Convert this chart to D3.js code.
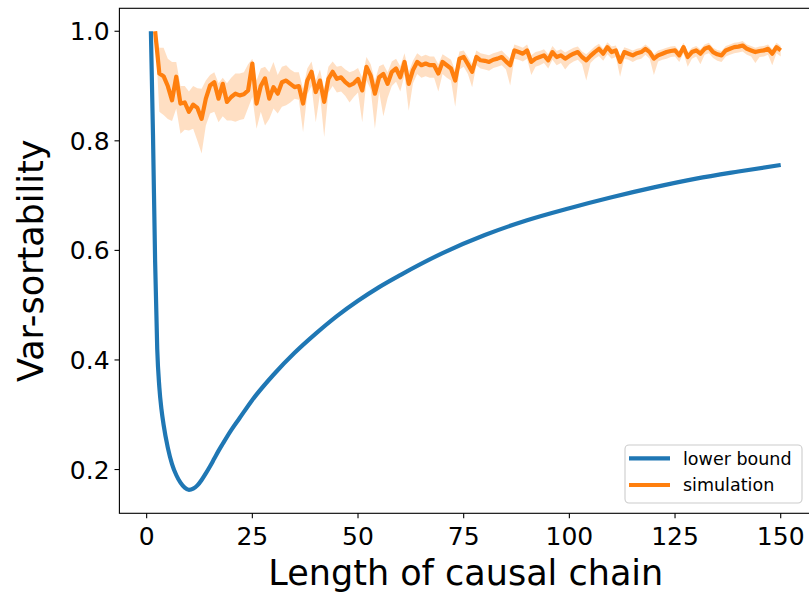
<!DOCTYPE html>
<html>
<head>
<meta charset="utf-8">
<script src="https://cdn.jsdelivr.net/npm/d3@7"></script>
<style>
  body { margin: 0; background: #fff; }
  svg { display: block; font-family: "DejaVu Sans", sans-serif; }
</style>
</head>
<body>
<div id="chart"></div>
<script>
// lower bound curve
const boundX = [1, 1.5, 2, 2.5, 3, 3.5, 4, 5, 6, 7, 8, 9, 10, 11, 12, 13, 14, 15, 16, 17,
    18, 20, 22, 25, 30, 35, 40, 45, 50, 55, 60, 70, 80, 90, 100, 110, 120, 130, 140, 150];
const boundY = [1.0, 0.81, 0.58, 0.42, 0.35, 0.31, 0.282, 0.24, 0.21, 0.19, 0.176, 0.167, 0.163, 0.165, 0.171, 0.181, 0.193, 0.206, 0.22, 0.234,
    0.247, 0.272, 0.294, 0.327, 0.373, 0.413, 0.448, 0.48, 0.508, 0.533, 0.555, 0.595, 0.628, 0.655, 0.677, 0.697, 0.715, 0.731, 0.744, 0.756];

// simulation, one value per chain length 2..150
const simX = d3.range(2, 151);
const simMean = [
    1.0, .923, .918, .90, .874, .917, .868, .87, .853, .866,
    .86, .84, .877, .901, .907, .877, .904, .871, .88, .886,
    .883, .885, .892, .941, .868, .90, .914, .877, .898, .886,
    .907, .91, .904, .898, .90, .868, .91, .926, .889, .91,
    .871, .913, .926, .913, .916, .907, .901, .905, .913, .892,
    .935, .919, .886, .916, .922, .904, .926, .932, .916, .944,
    .904, .929, .944, .938, .941, .938, .938, .923, .944, .938,
    .932, .91, .95, .953, .94, .926, .953, .947, .946, .944,
    .948, .95, .953, .945, .938, .965, .962, .959, .965, .944,
    .95, .953, .956, .947, .962, .953, .956, .95, .955, .959,
    .962, .953, .947, .955, .962, .968, .959, .971, .962, .965,
    .944, .962, .959, .956, .96, .962, .968, .962, .95, .956,
    .959, .962, .964, .965, .956, .971, .953, .962, .965, .959,
    .968, .971, .962, .958, .956, .965, .968, .971, .972, .974,
    .968, .965, .962, .964, .965, .968, .959, .971, .965
];
const simLow = [
    1.0, .853, .847, .84, .836, .859, .813, .82, .819, .822,
    .80, .777, .828, .85, .853, .834, .845, .837, .837, .835,
    .838, .84, .86, .88, .822, .853, .828, .84, .859, .85,
    .862, .865, .87, .877, .875, .816, .885, .90, .834, .885,
    .807, .888, .90, .888, .89, .882, .87, .88, .888, .834,
    .91, .894, .822, .89, .845, .878, .90, .908, .89, .92,
    .855, .905, .922, .915, .918, .915, .915, .89, .922, .915,
    .91, .862, .93, .935, .922, .898, .938, .932, .93, .928,
    .933, .935, .938, .93, .901, .95, .948, .945, .95, .92,
    .935, .938, .942, .932, .948, .938, .942, .93, .94, .945,
    .948, .94, .91, .942, .95, .955, .946, .958, .95, .953,
    .917, .95, .948, .944, .948, .95, .957, .95, .92, .945,
    .948, .95, .953, .954, .944, .96, .935, .95, .954, .94,
    .957, .96, .951, .946, .944, .954, .957, .96, .961, .963,
    .957, .954, .942, .953, .954, .957, .938, .96, .954
];
const simHigh = [
    1.0, .97, .97, .95, .944, .944, .90, .90, .89, .90,
    .896, .895, .91, .92, .925, .905, .915, .905, .915, .923,
    .923, .925, .94, .95, .91, .932, .935, .925, .944, .92,
    .935, .938, .93, .925, .925, .895, .932, .945, .91, .93,
    .895, .935, .945, .935, .937, .93, .925, .928, .933, .915,
    .953, .94, .91, .936, .94, .925, .945, .95, .936, .96,
    .925, .946, .96, .954, .957, .954, .954, .94, .958, .953,
    .948, .928, .963, .965, .953, .94, .965, .96, .958, .956,
    .96, .962, .965, .957, .95, .976, .973, .97, .976, .956,
    .962, .964, .967, .958, .973, .964, .967, .961, .966, .97,
    .972, .963, .958, .965, .972, .977, .968, .98, .972, .974,
    .954, .971, .968, .965, .968, .97, .976, .97, .958, .965,
    .967, .97, .972, .973, .964, .979, .961, .97, .973, .967,
    .976, .979, .97, .966, .964, .973, .976, .979, .98, .982,
    .976, .973, .97, .972, .973, .976, .967, .979, .973
];

const xTicks = [0, 25, 50, 75, 100, 125, 150];
const yTicks = [0.2, 0.4, 0.6, 0.8, 1.0];
const seriesNames = ["lower bound", "simulation"];
const seriesColors = ["#1f77b4", "#ff7f0e"];

const width = 809, height = 594;
const plotL = 119.4, plotR = 812.2, plotT = 8.3, plotB = 513.3;

const svg = d3.select("#chart").append("svg")
    .attr("width", width)
    .attr("height", height);

const x = d3.scaleLinear().domain([-6.45, 157.45]).range([plotL, plotR]);
const y = d3.scaleLinear().domain([0.1201, 1.0419]).range([plotB, plotT]);

// lower bound line
const boundPts = boundX.map((v, i) => [v, boundY[i]]);
svg.append("path")
    .datum(boundPts)
    .attr("fill", "none")
    .attr("stroke", seriesColors[0])
    .attr("stroke-width", 4.2)
    .attr("d", d3.line().x(d => x(d[0])).y(d => y(d[1])).curve(d3.curveMonotoneX));

// simulation band + line
const sim = simX.map((v, i) => ({ x: v, m: simMean[i], lo: simLow[i], hi: simHigh[i] }));
svg.append("path")
    .datum(sim)
    .attr("fill", seriesColors[1])
    .attr("fill-opacity", 0.25)
    .attr("stroke", "none")
    .attr("d", d3.area().x(d => x(d.x)).y0(d => y(d.lo)).y1(d => y(d.hi)));

svg.append("path")
    .datum(sim)
    .attr("fill", "none")
    .attr("stroke", seriesColors[1])
    .attr("stroke-width", 4.2)
    .attr("stroke-linejoin", "round")
    .attr("d", d3.line().x(d => x(d.x)).y(d => y(d.m)));

// spines
svg.append("rect")
    .attr("x", plotL).attr("y", plotT)
    .attr("width", plotR - plotL).attr("height", plotB - plotT)
    .attr("fill", "none")
    .attr("stroke", "#000")
    .attr("stroke-width", 1.1);

// x ticks
const xt = svg.append("g");
xTicks.forEach(t => {
    xt.append("line")
        .attr("x1", x(t)).attr("x2", x(t))
        .attr("y1", plotB).attr("y2", plotB + 4.9)
        .attr("stroke", "#000").attr("stroke-width", 1.1);
    xt.append("text")
        .attr("x", x(t)).attr("y", 545)
        .attr("text-anchor", "middle")
        .attr("font-size", 25)
        .text(t);
});

// y ticks
const yt = svg.append("g");
yTicks.forEach(t => {
    yt.append("line")
        .attr("x1", plotL - 4.9).attr("x2", plotL)
        .attr("y1", y(t)).attr("y2", y(t))
        .attr("stroke", "#000").attr("stroke-width", 1.1);
    yt.append("text")
        .attr("x", plotL - 9.8).attr("y", y(t) + 9)
        .attr("text-anchor", "end")
        .attr("font-size", 25)
        .text(d3.format(".1f")(t));
});

// axis labels
svg.append("text")
    .attr("x", (plotL + plotR) / 2).attr("y", 585)
    .attr("text-anchor", "middle")
    .attr("font-size", 35)
    .text("Length of causal chain");

svg.append("text")
    .attr("transform", `translate(43,${(plotT + plotB) / 2}) rotate(-90)`)
    .attr("text-anchor", "middle")
    .attr("font-size", 35)
    .text("Var-sortability");

// legend
const lg = svg.append("g");
lg.append("rect")
    .attr("x", 625).attr("y", 445)
    .attr("width", 177).attr("height", 58)
    .attr("rx", 4)
    .attr("fill", "#fff").attr("fill-opacity", 0.8)
    .attr("stroke", "#ccc").attr("stroke-width", 1.1);
seriesNames.forEach((name, i) => {
    const ly = 458.3 + i * 26.7;
    lg.append("line")
        .attr("x1", 629).attr("x2", 670)
        .attr("y1", ly).attr("y2", ly)
        .attr("stroke", seriesColors[i]).attr("stroke-width", 4.2);
    lg.append("text")
        .attr("x", 683).attr("y", ly + 6.4)
        .attr("font-size", 17.5)
        .text(name);
});
</script>
</body>
</html>
